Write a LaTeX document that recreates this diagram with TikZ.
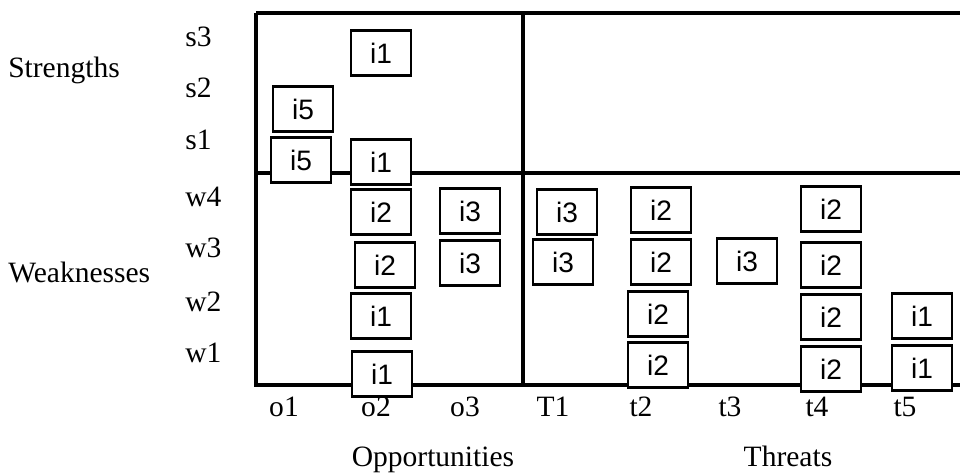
\documentclass[tikz,border=0pt]{standalone}
\usepackage{fontspec}
\setmainfont{Liberation Serif}
\newfontfamily\boxfont{Liberation Sans}
\usepackage{tikz}
\usetikzlibrary{positioning}

\tikzset{
  frame/.style={line width=2.2pt},
  ibox/.style={draw, line width=1.6pt, fill=white, minimum width=1.5cm,
    minimum height=1.12cm, inner sep=0pt, font=\boxfont\fontsize{20}{24}\selectfont},
  lab/.style={font=\fontsize{21}{25}\selectfont, inner sep=0pt}
}

\begin{document}
\begin{tikzpicture}[x=0.025cm,y=-0.025cm]
  \useasboundingbox (0,0) rectangle (960,474);
  \def\xl{256}
  \def\xm{523}
  \def\xr{960}
  \def\yt{13}
  \def\ym{173}
  \def\yb{385}
  % frame of the matrix
  \draw[frame] (\xl,\yt) -- (\xr,\yt);
  \draw[frame] (\xl,\yt) -- (\xl,\yb) -- (\xr,\yb);
  \draw[frame] (\xm,\yt) -- (\xm,\yb);
  \draw[frame] (\xl,\ym) -- (\xr,\ym);
  % row and column labels
  \foreach \n/\y in {s3/37,s2/88,s1/140,w4/197,w3/248,w2/302,w1/353}
    \node[lab,anchor=west] (\n) at (185,\y) {\n};
  \foreach \n/\x in {o1/284,o2/376,o3/465,T1/553,t2/641,t3/730,t4/817,t5/905}
    \node[lab] (\n) at (\x,407) {\n};
  \node[lab,anchor=west] (strengths) at (8,70) {Strengths};
  \node[lab,anchor=west] (weaknesses) at (8,272) {Weaknesses};
  \node[lab,anchor=base] (opportunities) at (433,466) {Opportunities};
  \node[lab,anchor=base] (threats) at (788,466) {Threats};
  % interaction boxes
  \foreach \x/\y/\t [count=\k] in {
      381/53/i1, 303/109/i5, 301/160/i5, 381/162/i1,
      381/212/i2, 385/265/i2, 381/316/i1, 382/374/i1,
      470/211/i3, 470/263/i3,
      567/212/i3, 563/262/i3,
      661/210/i2, 661/262/i2, 658/314/i2, 658/365/i2,
      747/261/i3,
      831/209/i2, 831/265/i2, 831/317/i2, 831/369/i2,
      922/316/i1, 922/368/i1}
    \node[ibox] (box\k) at (\x,\y) {\t};
\end{tikzpicture}
\end{document}
